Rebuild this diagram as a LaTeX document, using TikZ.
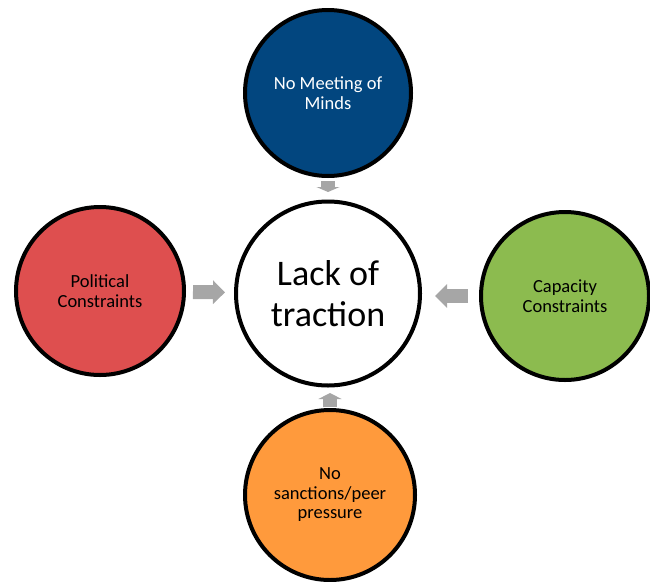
\documentclass[tikz,border=0pt]{standalone}
\usepackage{fontspec}
\setmainfont{Carlito}
\usetikzlibrary{arrows.meta,positioning}
\definecolor{mindblue}{HTML}{02467F}
\definecolor{polred}{HTML}{DE4F4F}
\definecolor{capgreen}{HTML}{8CBB4F}
\definecolor{peerorange}{HTML}{FF9A3C}
\definecolor{arrowgray}{HTML}{A6A6A6}

\begin{document}
\begin{tikzpicture}[x=1pt, y=-1pt,
  every node/.style={font=\fontsize{18.5}{19.5}\selectfont},
  cause/.style={circle,draw=black,line width=4pt,inner sep=0pt,minimum size=#1,align=center},
  feed/.style={arrowgray,line width=14pt,-{Triangle[length=#1,width=23pt]}}]
  \useasboundingbox (0,0) rectangle (650,581);
  % Nodes
  \node[cause=184pt,fill=white,font=\fontsize{36}{41}\selectfont] (L) at (328,293.5) {Lack of\\traction};
  \node[cause=166pt,fill=mindblue,text=white] (M) at (328,93)  {No Meeting of\\Minds};
  \node[cause=168pt,fill=polred]     (P) at (100,291) {Political\\Constraints};
  \node[cause=168pt,fill=capgreen]   (C) at (565,296) {Capacity\\Constraints};
  \node[cause=170pt,fill=peerorange] (S) at (330,495) {No\\sanctions/peer\\pressure};
  % Arrows
  \draw[feed=12pt,shorten <=7pt,shorten >=9pt]   (P) -- (L);
  \draw[feed=12pt,shorten <=11pt,shorten >=13pt] (C.west) -- (L.east |- C.west);
  \draw[feed=5pt,shorten <=3pt,shorten >=7.5pt]  (M) -- (L);
  \draw[feed=6pt,shorten <=1pt,shorten >=5.5pt]  (S.north) -- (S.north |- L.south);
\end{tikzpicture}
\end{document}
